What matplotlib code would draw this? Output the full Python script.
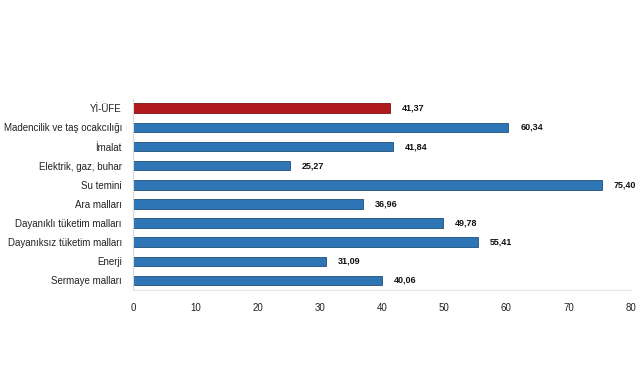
import matplotlib.pyplot as plt

plt.rcParams["font.family"] = ["Liberation Sans", "DejaVu Sans"]

categories = ["Yİ-ÜFE", "Madencilik ve taş ocakcılığı", "İmalat", "Elektrik, gaz, buhar",
              "Su temini", "Ara malları", "Dayanıklı tüketim malları",
              "Dayanıksız tüketim malları", "Enerji", "Sermaye malları"]
values = [41.37, 60.34, 41.84, 25.27, 75.40, 36.96, 49.78, 55.41, 31.09, 40.06]
xticks = [0, 10, 20, 30, 40, 50, 60, 70, 80]

colors = ["#b0191e"] + ["#2e75b6"] * (len(values) - 1)
edges = ["#7d1014"] + ["#1f4e79"] * (len(values) - 1)

fig = plt.figure(figsize=(6.41, 3.80), dpi=100)
ax = fig.add_axes([0.2075, 0.2368, 0.7765, 0.5035])

y = list(range(len(categories)))
ax.barh(y, values, height=0.5, color=colors, edgecolor=edges, linewidth=0.6)
for yi, v in zip(y, values):
    ax.text(v + 1.9, yi, f"{v:.2f}".replace(".", ","), va="center", ha="left",
            fontsize=6.5, fontweight="bold", color="#111111")

ax.set_ylim(len(categories) - 0.5, -0.5)
ax.set_xlim(0, 80)
ax.set_yticks(y)
ax.set_yticklabels(categories, fontsize=7, color="#222222")
ax.set_xticks(xticks)
ax.set_xticklabels([str(t) for t in xticks], fontsize=7, color="#222222")
ax.tick_params(axis="y", length=0, pad=8)
ax.tick_params(axis="x", length=0, pad=9)
for s in ["top", "right"]:
    ax.spines[s].set_visible(False)
ax.spines["left"].set_color("#d9d9d9")
ax.spines["bottom"].set_color("#e6e6e6")
ax.spines["left"].set_linewidth(0.8)
ax.spines["bottom"].set_linewidth(0.8)

fig.savefig("out.png", dpi=100)
